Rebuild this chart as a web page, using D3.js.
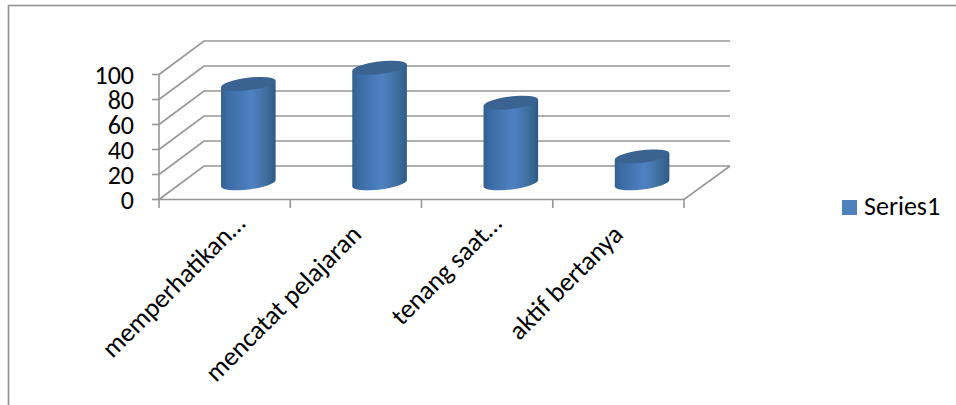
<!DOCTYPE html>
<html><head><meta charset="utf-8">
<script src="https://cdn.jsdelivr.net/npm/d3@7"></script>
<style>html,body{margin:0;padding:0;background:#fff}svg{display:block}</style>
</head><body><svg id="c" width="956" height="405"></svg>
<script>
const categories = ["memperhatikan…","mencatat pelajaran","tenang saat…","aktif bertanya"];
const values = [79, 92, 64, 21];
const seriesName = "Series1";
const yTicks = [0,20,40,60,80,100];

const svg = d3.select("#c");
const W=956,H=405;
const font = "Carlito, Lato, 'Open Sans', sans-serif";
const fx0=159, fx1=684, fy0=199.5, fy1=74.5, dx=45, dy=-33.5;
const x = d3.scaleBand().domain(categories).range([fx0,fx1]);
const y = d3.scaleLinear().domain([0,100]).range([fy0,fy1]);

const defs = svg.append("defs");
const g = defs.append("linearGradient").attr("id","cyl");
[[0,"#33618f"],[0.12,"#3a6ba3"],[0.55,"#4f82c4"],[0.8,"#41709f"],[1,"#2f5a87"]].forEach(s=>g.append("stop").attr("offset",s[0]).attr("stop-color",s[1]));

svg.append("path").attr("d",`M8.5,${H}V5.5H${W}`).attr("fill","none").attr("stroke","#8e8e8e").attr("stroke-width",1.6);

const grey="#969696";
const grid = svg.append("g").attr("fill","none").attr("stroke",grey).attr("stroke-width",1.6);
yTicks.forEach(t=>{
  grid.append("path").attr("d",`M${fx0},${y(t)}L${fx0+dx},${y(t)+dy}H${fx1+dx+1}`);
});
grid.append("path").attr("d",`M${fx1+dx+1},${fy0+dy}L${fx1},${fy0}H${fx0}`);
grid.append("path").attr("d",`M${fx0},${fy0}V${fy1}`);
yTicks.forEach(t=>grid.append("path").attr("d",`M${fx0-7},${y(t)}H${fx0}`));
const xt = [...categories.map(c=>x(c)), fx1];
xt.forEach(v=>grid.append("path").attr("d",`M${v},${fy0}V${fy0+8.5}`));

svg.append("g").selectAll("text").data(yTicks).join("text")
  .attr("x",134).attr("y",t=>y(t)+9.5).attr("text-anchor","end")
  .attr("font-family",font).attr("font-size",26).attr("fill","#000").text(d=>d);

const rx=27.5, ry=6.2, tilt=-7;
const bars = svg.append("g");
categories.forEach((c,i)=>{
  const cx = x(c)+x.bandwidth()/2+dx/2+1.2;
  const by = fy0+dy/2+0.5;
  const ty = y(values[i])+dy/2;
  const hy = by - ty;
  const s = Math.sin(tilt*Math.PI/180)*rx, k=Math.cos(tilt*Math.PI/180)*rx;
  const yl = ty - s, yr = ty + s;
  const xl=cx-k, xr=cx+k;
  bars.append("path")
    .attr("d",`M${xl},${yl}L${xl},${yl+hy}A${rx},${ry} ${tilt} 0 0 ${xr},${yr+hy}L${xr},${yr}Z`)
    .attr("fill","url(#cyl)");
  bars.append("ellipse").attr("cx",cx).attr("cy",ty).attr("rx",rx).attr("ry",ry)
    .attr("transform",`rotate(${tilt} ${cx} ${ty})`).attr("fill","#3b6391");
});

const labelShift = [[22,225],[7,236],[16,225],[6,236]];
categories.forEach((c,i)=>{
  const px = x(c)+x.bandwidth()/2+labelShift[i][0];
  svg.append("text").attr("transform",`translate(${px},${labelShift[i][1]}) rotate(-45)`)
    .attr("text-anchor","end").attr("font-family",font).attr("font-size",26.5).attr("fill","#000").text(c);
});

svg.append("rect").attr("x",842).attr("y",200).attr("width",15).attr("height",15).attr("fill","#4f81bd");
svg.append("text").attr("x",864).attr("y",215).attr("font-family",font).attr("font-size",26).attr("fill","#000").text(seriesName);
</script></body></html>
